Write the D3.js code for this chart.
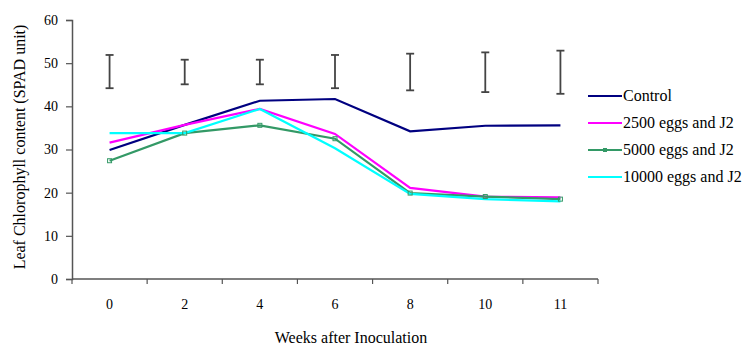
<!DOCTYPE html>
<html>
<head>
<meta charset="utf-8">
<script src="https://cdn.jsdelivr.net/npm/d3@7"></script>
<style>
  body { margin: 0; background: #fff; }
  svg text { font-family: "Liberation Serif", "Times New Roman", serif; fill: #000; }
</style>
</head>
<body>
<svg id="chart" width="745" height="345"></svg>
<script>
// Weeks after inoculation (category labels)
const weeks = ["0", "2", "4", "6", "8", "10", "11"];
const yTicks = [0, 10, 20, 30, 40, 50, 60];

// Leaf chlorophyll content (SPAD units) per treatment
const control   = [29.9, 35.7, 41.3, 41.7, 34.2, 35.5, 35.6];
const eggs2500  = [31.6, 35.7, 39.4, 33.6, 21.1, 19.1, 18.9];
const eggs5000  = [27.4, 33.8, 35.6, 32.5, 19.9, 19.1, 18.5];
const eggs10000 = [33.8, 33.8, 39.4, 30.3, 19.7, 18.5, 18.0];

// Error bar ranges (low, high) per week
const errLow  = [44.2, 45.1, 45.1, 44.2, 43.7, 43.3, 42.9];
const errHigh = [51.9, 50.8, 50.8, 51.9, 52.2, 52.5, 52.9];

const seriesNames  = ["Control", "2500 eggs and J2", "5000 eggs and J2", "10000 eggs and J2"];
const seriesColors = ["#000080", "#ff00ff", "#339966", "#00ffff"];
const seriesValues = [control, eggs2500, eggs5000, eggs10000];

const svg = d3.select("#chart");
const plotLeft = 72, plotRight = 598, plotTop = 20, plotBottom = 279;

const x = d3.scaleBand().domain(weeks).range([plotLeft, plotRight]);
const cx = w => x(w) + x.bandwidth() / 2;
const y = d3.scaleLinear().domain([0, 60]).range([plotBottom, plotTop]);

const axisColor = "#555";

// Y axis
const yAxis = svg.append("g").attr("transform", `translate(${plotLeft},0)`)
  .call(d3.axisLeft(y).tickValues(yTicks).tickSize(6).tickPadding(8).tickFormat(d3.format("d")));
yAxis.select(".domain").attr("stroke", axisColor).attr("stroke-width", 1.5);
yAxis.selectAll(".tick line").attr("stroke", axisColor).attr("stroke-width", 1.2);
yAxis.selectAll(".tick text").style("font-size", "14px").style("font-family", "Liberation Serif, serif").attr("fill", "#000");

// X axis: ticks at category boundaries, labels centred in each category
const xg = svg.append("g").attr("transform", `translate(0,${plotBottom})`);
xg.append("line").attr("x1", plotLeft).attr("x2", plotRight).attr("stroke", axisColor).attr("stroke-width", 1.5);
const bounds = weeks.map(w => x(w)).concat([plotRight]);
xg.selectAll("line.tick").data(bounds).enter().append("line")
  .attr("class", "tick")
  .attr("x1", d => d).attr("x2", d => d).attr("y1", 0).attr("y2", 5)
  .attr("stroke", axisColor).attr("stroke-width", 1.2);
xg.selectAll("text").data(weeks).enter().append("text")
  .attr("x", d => cx(d))
  .attr("y", 30).attr("text-anchor", "middle").style("font-size", "14px").text(d => d);

// Error bars
const eb = svg.append("g").attr("stroke", "#444").attr("stroke-width", 1.8);
weeks.forEach((w, i) => {
  const px = cx(w);
  eb.append("line").attr("x1", px).attr("x2", px).attr("y1", y(errHigh[i])).attr("y2", y(errLow[i]));
  eb.append("line").attr("x1", px - 4).attr("x2", px + 4).attr("y1", y(errHigh[i])).attr("y2", y(errHigh[i]));
  eb.append("line").attr("x1", px - 4).attr("x2", px + 4).attr("y1", y(errLow[i])).attr("y2", y(errLow[i]));
});

// Series lines
const line = d3.line().x((d, i) => cx(weeks[i])).y(d => y(d));
seriesValues.forEach((vals, s) => {
  svg.append("path").datum(vals).attr("d", line)
    .attr("fill", "none").attr("stroke", seriesColors[s]).attr("stroke-width", 2.2);
});
// Markers on the 5000 eggs series
svg.append("g").selectAll("rect").data(eggs5000).enter().append("rect")
  .attr("x", (d, i) => cx(weeks[i]) - 2).attr("y", d => y(d) - 2)
  .attr("width", 4).attr("height", 4)
  .attr("fill", "none").attr("stroke", seriesColors[2]).attr("stroke-width", 1);

// Legend
const leg = svg.append("g");
const legY = [96, 123, 150, 177];
seriesNames.forEach((n, i) => {
  leg.append("line").attr("x1", 588).attr("x2", 622).attr("y1", legY[i]).attr("y2", legY[i])
    .attr("stroke", seriesColors[i]).attr("stroke-width", 2.2);
  if (i === 2) {
    leg.append("rect").attr("x", 603).attr("y", legY[i] - 2).attr("width", 4).attr("height", 4)
      .attr("fill", seriesColors[i]);
  }
  leg.append("text").attr("x", 623).attr("y", legY[i] + 5).style("font-size", "16px").text(n);
});

// Axis titles
svg.append("text").attr("x", 351).attr("y", 343).attr("text-anchor", "middle")
  .style("font-size", "16px").text("Weeks after Inoculation");
svg.append("text").attr("transform", "translate(25,147) rotate(-90)").attr("text-anchor", "middle")
  .style("font-size", "16px").text("Leaf Chlorophyll content (SPAD unit)");
</script>
</body>
</html>
